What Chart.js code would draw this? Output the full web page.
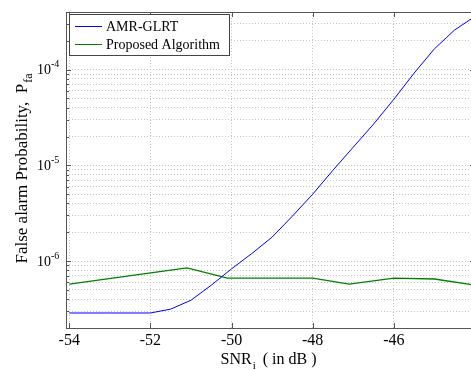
<!DOCTYPE html>
<html>
<head>
<meta charset="utf-8">
<script src="https://cdn.jsdelivr.net/npm/chart.js@4.4.1/dist/chart.umd.min.js"></script>
<style>
  html, body { margin: 0; padding: 0; background: #fff; overflow: hidden; }
  #wrap { width: 471px; height: 370px; overflow: hidden; }
</style>
</head>
<body>
<div id="wrap"><canvas id="pfaChart" width="476" height="370"></canvas></div>
<script>
// SNR (dB) and false alarm probability
const snrAmr = [-54, -53, -52, -51.5, -51, -50.5, -50, -49.5, -49, -48.5, -48, -47.5, -47, -46.5, -46, -45.5, -45, -44.5, -44];
const pfaAmr = [2.87e-7, 2.87e-7, 2.87e-7, 3.15e-7, 3.9e-7, 5.6e-7, 8.3e-7, 1.2e-6, 1.78e-6, 2.95e-6, 5.0e-6, 8.9e-6, 1.55e-5, 2.7e-5, 4.9e-5, 9.2e-5, 1.65e-4, 2.6e-4, 3.6e-4];
const snrProposed = [-54, -51.1, -50.1, -48, -47.1, -46, -45, -44];
const pfaProposed = [5.75e-7, 8.5e-7, 6.65e-7, 6.65e-7, 5.75e-7, 6.65e-7, 6.5e-7, 5.6e-7];

const seriesNames = ['AMR-GLRT', 'Proposed Algorithm'];
const xTicks = [-54, -52, -50, -48, -46];
const yDecades = [-6, -5, -4];   // labelled as 10^n

const SERIF = "'Liberation Serif', 'Times New Roman', serif";

// minor log grid: 2..9 x 10^n between the axis limits
const yMin = 2e-7, yMax = 4e-4;
const yGrid = [];
for (let e = -7; e <= -4; e++) {
    for (let m = 1; m <= 9; m++) {
        const v = m * Math.pow(10, e);
        if (v >= yMin * 0.999 && v <= yMax * 1.001) yGrid.push(v);
    }
}

const toPoints = (xs, ys) => xs.map((x, i) => ({ x: x, y: ys[i] }));

// box, inner ticks, legend and axis titles (MATLAB look)
const framePlugin = {
    id: 'frame',
    afterDraw(chart) {
        const { ctx, chartArea: a, scales } = chart;
        const xs = scales.x, ys = scales.y;
        ctx.save();

        // inner tick marks
        ctx.strokeStyle = '#555';
        ctx.lineWidth = 1;
        ctx.beginPath();
        xTicks.forEach(v => {
            const px = Math.round(xs.getPixelForValue(v)) + 0.5;
            ctx.moveTo(px, a.bottom); ctx.lineTo(px, a.bottom - 5);
            ctx.moveTo(px, a.top); ctx.lineTo(px, a.top + 5);
        });
        yGrid.forEach(v => {
            const py = Math.round(ys.getPixelForValue(v)) + 0.5;
            const major = Math.abs(Math.log10(v) - Math.round(Math.log10(v))) < 1e-6;
            const len = major ? 5 : 3;
            ctx.moveTo(a.left, py); ctx.lineTo(a.left + len, py);
            ctx.moveTo(a.right, py); ctx.lineTo(a.right - len, py);
        });
        ctx.stroke();

        // axes box
        ctx.strokeStyle = '#555';
        ctx.strokeRect(Math.round(a.left) + 0.5, Math.round(a.top) + 0.5,
                       Math.round(a.right - a.left), Math.round(a.bottom - a.top));

        // y tick labels 10^n
        ctx.fillStyle = '#000';
        ctx.textBaseline = 'middle';
        yDecades.forEach(n => {
            const py = ys.getPixelForValue(Math.pow(10, n));
            ctx.font = '14px ' + SERIF;
            ctx.textAlign = 'right';
            ctx.fillText('10', 51, py + 1);
            ctx.font = '10px ' + SERIF;
            ctx.textAlign = 'left';
            ctx.fillText('-' + Math.abs(n), 51, py - 5);
        });

        // x title: SNR_i ( in dB )
        ctx.textBaseline = 'alphabetic';
        const t1 = 'SNR', t2 = '  ( in dB )';
        ctx.font = '16px ' + SERIF;
        const w1 = ctx.measureText(t1).width;
        const w3 = ctx.measureText(t2).width;
        ctx.font = '11px ' + SERIF;
        const w2 = ctx.measureText('i').width;
        const cx = (a.left + a.right) / 2;
        const sx = cx - (w1 + w2 + w3) / 2 - 2;
        ctx.textAlign = 'left';
        ctx.font = '16px ' + SERIF;
        ctx.fillText(t1, sx, 364);
        ctx.font = '11px ' + SERIF;
        ctx.fillText('i', sx + w1 + 1, 369);
        ctx.font = '16px ' + SERIF;
        ctx.fillText(t2, sx + w1 + w2, 364);

        // y title: False alarm Probability,  P_fa
        ctx.save();
        ctx.translate(27, 169);
        ctx.rotate(-Math.PI / 2);
        ctx.font = '17px ' + SERIF;
        const m1 = 'False alarm Probability,  P';
        const mw1 = ctx.measureText(m1).width;
        ctx.font = '12px ' + SERIF;
        const mw2 = ctx.measureText('fa').width;
        const ty = -(mw1 + mw2) / 2;
        ctx.font = '17px ' + SERIF;
        ctx.fillText(m1, ty, 0);
        ctx.font = '12px ' + SERIF;
        ctx.fillText('fa', ty + mw1 + 1, 5);
        ctx.restore();

        // legend
        const lx = 69.5, ly = 14.5, lw = 160, lh = 41;
        ctx.fillStyle = '#fff';
        ctx.fillRect(lx, ly, lw, lh);
        ctx.strokeStyle = '#444';
        ctx.strokeRect(lx, ly, lw, lh);
        ctx.font = '14px ' + SERIF;
        ctx.textBaseline = 'middle';
        chart.data.datasets.forEach((ds, i) => {
            const yy = 26 + i * 18;
            ctx.strokeStyle = ds.borderColor;
            ctx.beginPath();
            ctx.moveTo(75, yy + 0.5); ctx.lineTo(102, yy + 0.5);
            ctx.stroke();
            ctx.fillStyle = '#000';
            ctx.fillText(ds.label, 106, yy + 1);
        });

        ctx.restore();
    }
};

const ctx = document.getElementById('pfaChart');

new Chart(ctx, {
    type: 'line',
    data: {
        datasets: [
            {
                label: seriesNames[0],
                data: toPoints(snrAmr, pfaAmr),
                borderColor: '#0000ff',
                borderWidth: 1,
                pointRadius: 0,
                tension: 0
            },
            {
                label: seriesNames[1],
                data: toPoints(snrProposed, pfaProposed),
                borderColor: '#008000',
                borderWidth: 1.3,
                pointRadius: 0,
                tension: 0
            }
        ]
    },
    options: {
        responsive: false,
        animation: false,
        layout: { padding: { top: 12, right: 1, left: 0, bottom: 0 } },
        plugins: {
            legend: { display: false },
            tooltip: { enabled: false }
        },
        scales: {
            x: {
                type: 'linear',
                min: -54.08,
                max: -44,
                afterBuildTicks: s => { s.ticks = xTicks.map(v => ({ value: v })); },
                afterFit: s => { s.height = 42; },
                grid: { color: '#c4c4c4', lineWidth: 1, drawTicks: false },
                border: { display: false, dash: [1, 2] },
                ticks: {
                    padding: 3,
                    color: '#000',
                    maxRotation: 0,
                    autoSkip: false,
                    font: { family: SERIF, size: 16 },
                    callback: v => String(v)
                }
            },
            y: {
                type: 'logarithmic',
                min: yMin,
                max: yMax,
                afterBuildTicks: s => { s.ticks = yGrid.map(v => ({ value: v })); },
                afterFit: s => { s.width = 66; },
                grid: { color: '#c4c4c4', lineWidth: 1, drawTicks: false },
                border: { display: false, dash: [1, 2] },
                ticks: { display: false }
            }
        }
    },
    plugins: [framePlugin]
});
</script>
</body>
</html>
